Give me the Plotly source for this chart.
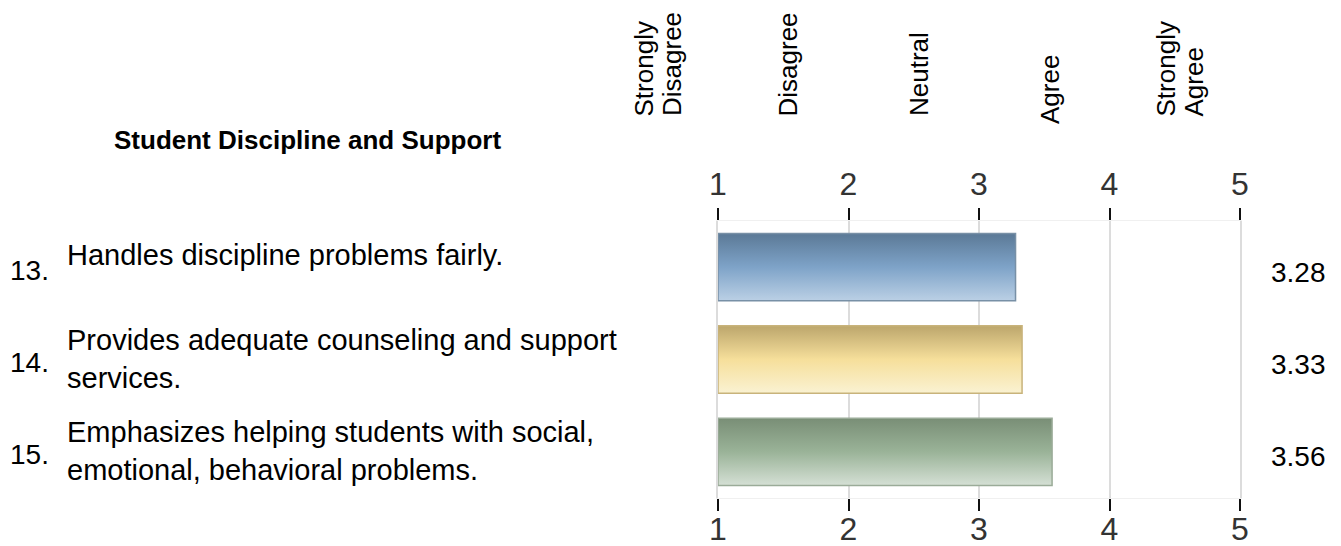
import plotly.graph_objects as go

# ---------------- data ----------------
title = "Student Discipline and Support"
numbers = ["13.", "14.", "15."]
items = [
    "Handles discipline problems fairly.",
    "Provides adequate counseling and support<br>services.",
    "Emphasizes helping students with social,<br>emotional, behavioral problems.",
]
means = [3.28, 3.33, 3.56]
tick_vals = [1, 2, 3, 4, 5]
scale_labels = ["Strongly<br>Disagree", "Disagree", "Neutral", "Agree", "Strongly<br>Agree"]

# ---------------- styles ----------------
FONT = "Liberation Sans, Arial, sans-serif"
# top, middle, bottom colours of each bar's vertical gradient
gradients = [
    ["#5b7996", "#7ea3c8", "#bbd0e5"],
    ["#bca66c", "#f6df9b", "#faf2d2"],
    ["#798e76", "#9ab398", "#d5e0d5"],
]
borders = ["#7890a6", "#c8b37b", "#9aab98"]
half_h = 0.365

# page body has an 8px margin; figure coordinates are screen minus 8
PAGE_OFF = 8
SCREEN_L, SCREEN_T = 718, 221          # plot area top-left on screen
plot_w, plot_h = 522, 277
W, H = 1341 - PAGE_OFF, 546
L, T = SCREEN_L - PAGE_OFF, SCREEN_T - PAGE_OFF
R = W - L - plot_w
B = H - T - plot_h
xmin, xmax = tick_vals[0], tick_vals[-1]


def px_to_paper_x(px):
    return (px - SCREEN_L) / plot_w


def px_to_paper_y(py):
    return 1 + (SCREEN_T - py) / plot_h


fig = go.Figure()

for i, v in enumerate(means):
    g = gradients[i]
    fig.add_trace(go.Scatter(
        x=[xmin, v, v, xmin, xmin],
        y=[i - half_h, i - half_h, i + half_h, i + half_h, i - half_h],
        mode="lines",
        fill="toself",
        fillgradient=dict(type="vertical",
                          colorscale=[[0, g[2]], [0.5, g[1]], [1, g[0]]]),
        line=dict(color=borders[i], width=1.5),
        hoverinfo="text",
        text=f"{numbers[i]} {v:.2f}",
        showlegend=False,
    ))

# invisible helper trace so the top (mirrored) axis is drawn
fig.add_trace(go.Scatter(
    x=means, y=list(range(len(means))), xaxis="x2", yaxis="y",
    mode="markers", marker=dict(opacity=0), hoverinfo="skip",
    showlegend=False,
))

tickfont = dict(family=FONT, size=32, color="#333333")
common_axis = dict(
    range=[xmin, xmax],
    tickvals=tick_vals,
    ticktext=[str(t) for t in tick_vals],
    ticks="outside",
    ticklen=12,
    tickwidth=2,
    tickcolor="#111111",
    tickfont=tickfont,
    showline=True,
    linecolor="#f0f0f0",
    linewidth=1,
    zeroline=False,
    fixedrange=True,
)

annotations = []

# title
annotations.append(dict(
    text=f"<b>{title}</b>", xref="paper", yref="paper",
    x=px_to_paper_x(307), y=px_to_paper_y(140),
    xanchor="center", yanchor="middle", showarrow=False,
    font=dict(family=FONT, size=26, color="black"),
))

# scale header labels (rotated)
header_yshift = [0, 0, 0, -8, 0]
for k, lab in enumerate(scale_labels):
    lines = lab.split("<br>")
    n = len(lines)
    xp = (tick_vals[k] - 0.46 - xmin) / (xmax - xmin)
    for j, line in enumerate(lines):
        annotations.append(dict(
            text=line, xref="paper", yref="paper",
            x=xp, y=px_to_paper_y(118),
            xanchor="center", yanchor="bottom",
            xshift=(j - (n - 1) / 2) * 28,
            yshift=header_yshift[k],
            textangle=-90, showarrow=False,
            font=dict(family=FONT, size=26, color="black"),
        ))

# item labels, numbers and values
for i in range(len(means)):
    annotations.append(dict(
        text=numbers[i], xref="paper", yref="y",
        x=px_to_paper_x(8), y=i, yshift=-3,
        xanchor="left", yanchor="middle", showarrow=False,
        font=dict(family=FONT, size=28, color="black"),
    ))
    single = "<br>" not in items[i]
    annotations.append(dict(
        text=items[i], xref="paper", yref="y",
        x=px_to_paper_x(65), y=i, yshift=12 if single else 1,
        xanchor="left", yanchor="middle", align="left", showarrow=False,
        font=dict(family=FONT, size=29, color="black"),
    ))
    annotations.append(dict(
        text=f"{means[i]:.2f}", xref="paper", yref="y",
        x=px_to_paper_x(1298), y=i, yshift=-5,
        xanchor="center", yanchor="middle", showarrow=False,
        font=dict(family=FONT, size=28, color="black"),
    ))

fig.update_layout(
    width=W, height=H,
    margin=dict(l=L, r=R, t=T, b=B, autoexpand=False),
    paper_bgcolor="white",
    plot_bgcolor="white",
    showlegend=False,
    xaxis=dict(**common_axis, side="bottom", showgrid=True,
               gridcolor="#dcdcdc", gridwidth=2, ticklabelstandoff=-9),
    xaxis2=dict(**common_axis, side="top", overlaying="x", matches="x",
                anchor="y", showgrid=False),
    yaxis=dict(range=[len(means) - 0.5, -0.5], showticklabels=False,
               showgrid=False, zeroline=False, ticks="", fixedrange=True,
               showline=True, mirror=True, linecolor="#dcdcdc", linewidth=2),
    annotations=annotations,
)

fig.write_html("out.html")
